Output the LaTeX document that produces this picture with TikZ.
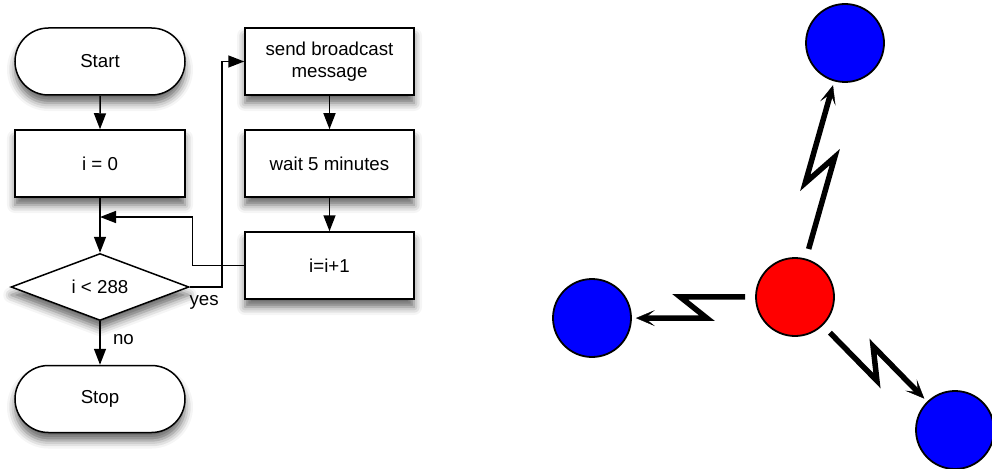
\documentclass[tikz,border=0pt]{standalone}
\usepackage{fontspec}
\setmainfont{Liberation Sans}
\usetikzlibrary{arrows.meta,positioning,shapes.geometric,shapes.misc,calc,shadows.blur}

\begin{document}
\begin{tikzpicture}[x=1pt, y=-1pt, node distance=102pt, on grid, >={Triangle[length=16pt,width=12pt]},
        every node/.style={font=\fontsize{18.7pt}{22pt}\selectfont},
        flowbox/.style={draw, line width=1.5pt, fill=white, minimum width=170pt, minimum height=67pt,
            inner sep=0pt, align=center,
            blur shadow={shadow xshift=0pt, shadow yshift=-8pt, shadow blur radius=8pt, shadow opacity=60}},
        terminal/.style={flowbox, rounded rectangle},
        decision/.style={flowbox, diamond, minimum width=178pt, aspect=2.66},
        flow/.style={line width=1.5pt, ->},
        mote/.style={circle, draw, line width=1.8pt, minimum size=78pt, inner sep=0pt, fill=blue},
        bolt/.style={line width=5.5pt, shorten <=10pt, shorten >=4pt,
            -{Stealth[length=19pt,width=16pt,inset=10pt,line width=0.4pt]},
            to path={(\tikztostart)
                -- ($(\tikztostart)!0.56!(\tikztotarget)!12pt!-90:(\tikztotarget)$)
                -- ($(\tikztostart)!0.44!(\tikztotarget)!12pt!90:(\tikztotarget)$)
                -- (\tikztotarget) \tikztonodes}}]
        \useasboundingbox (0,0) rectangle (992,468);

        \node[terminal] (start) at (100,61.5) {Start};
        \node[flowbox, below=of start] (init) {i = 0};
        \node[decision, below=123.5pt of init] (test) {i < 288};
        \node[terminal, below=112pt of test] (stop) {Stop};

        \node[flowbox, minimum width=169pt, right=229.5pt of start] (send) {send broadcast\\message};
        \node[flowbox, minimum width=169pt, below=of send] (wait) {wait 5 minutes};
        \node[flowbox, minimum width=169pt, below=of wait] (incr) {i=i+1};

        \coordinate (merge) at (100,217);

        \path[flow] (start) edge (init);
        \path[flow] (init) edge (test);
        \path[flow] (test) edge node[right=9pt, pos=0.42]{no} (stop);
        \path[flow] (send) edge (wait);
        \path[flow] (wait) edge (incr);
        \draw[flow] (incr.west) -- ++(-52,0) |- (merge);
        \draw[flow] (test.east) -- ++(32,0) node[below=4pt, pos=0.45]{yes} |- (send.west);

        \node[mote, fill=red] (base) at (795,297) {};
        \node[mote] (moteN) at (845,43) {};
        \node[mote] (moteW) at (592,318) {};
        \node[mote] (moteSE) at (955,430) {};

        \path (base) edge[bolt] (moteN);
        \path (base) edge[bolt] (moteW);
        \path (base) edge[bolt] (moteSE);
    \end{tikzpicture}
\end{document}
